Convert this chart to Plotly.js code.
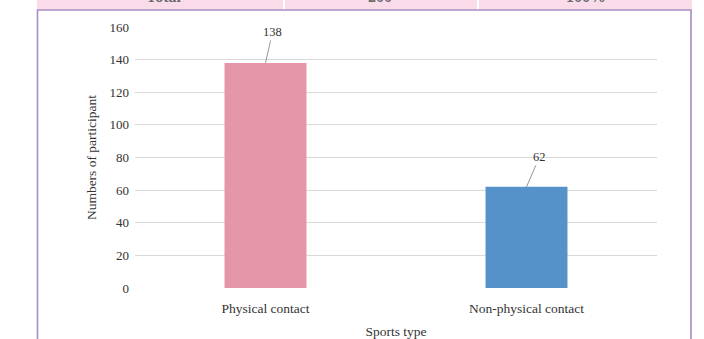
<!DOCTYPE html>
<html>
<head>
<meta charset="utf-8">
<script src="https://cdn.plot.ly/plotly-3.0.1.min.js"></script>
<style>
  html, body { margin: 0; padding: 0; background: #ffffff; }
  #chart { width: 704px; height: 339px; }
</style>
</head>
<body>
<div id="chart"></div>
<script>
// Participants by sports type
const categories = ["Physical contact", "Non-physical contact"];
const participants = [138, 62];
const barColors = ["#E596A9", "#5592CA"];
const yTicks = [0, 20, 40, 60, 80, 100, 120, 140, 160];
// Header row of the summary table above the chart
const headerCells = ["Total", "200", "100%"];

const W = 704, H = 339;
const M = { l: 135, r: 47, t: 27, b: 51 };
const plotW = W - M.l - M.r, plotH = H - M.t - M.b;
const px = x => (x - M.l) / plotW;
const py = y => (H - M.b - y) / plotH;

const textColor = "#333333";
const serif = "Liberation Serif, serif";

const trace = {
  type: "bar",
  x: categories,
  y: participants,
  marker: { color: barColors, line: { width: 0 } },
  width: 0.314,
  hoverinfo: "skip"
};

const shapes = [
  // pink table header band
  { type: "rect", xref: "paper", yref: "paper", layer: "below",
    x0: px(37), x1: px(692), y0: py(-2), y1: py(9.5),
    fillcolor: "#F9DBEA", line: { width: 0 } },
  // cell separators in the header band
  { type: "line", xref: "paper", yref: "paper", layer: "below",
    x0: px(284), x1: px(284), y0: py(-2), y1: py(9.5),
    line: { color: "#ffffff", width: 2 } },
  { type: "line", xref: "paper", yref: "paper", layer: "below",
    x0: px(478), x1: px(478), y0: py(-2), y1: py(9.5),
    line: { color: "#ffffff", width: 2 } },
  // chart frame
  { type: "rect", xref: "paper", yref: "paper", layer: "below",
    x0: px(37.5), x1: px(691), y0: py(10), y1: py(350),
    fillcolor: "#ffffff", line: { color: "#A88CC2", width: 1.6 } }
];

const headerX = [164, 380, 586];
const annotations = headerCells.map((t, i) => ({
  xref: "paper", yref: "paper", x: px(headerX[i]), y: py(7),
  xanchor: "center", yanchor: "bottom", showarrow: false,
  text: "<b>" + t + "</b>",
  font: { family: serif, size: 16, color: "#6a6a6a" }
}));

// value labels with short leader lines
const labelOffsets = [[7, -31], [13, -30]];
categories.forEach((c, i) => {
  annotations.push({
    x: c, y: participants[i], xref: "x", yref: "y",
    text: String(participants[i]),
    showarrow: true, arrowhead: 0, arrowwidth: 0.8, arrowcolor: "#7a7a7a",
    ax: labelOffsets[i][0], ay: labelOffsets[i][1],
    standoff: 0,
    font: { family: serif, size: 12.5, color: textColor }
  });
});

const layout = {
  width: W, height: H,
  margin: M,
  paper_bgcolor: "#ffffff",
  plot_bgcolor: "rgba(0,0,0,0)",
  showlegend: false,
  font: { family: serif, size: 13, color: textColor },
  xaxis: {
    type: "category",
    showgrid: false, zeroline: false, showline: false, ticks: "",
    tickfont: { family: serif, size: 13.5, color: textColor },
    ticklabelstandoff: 10,
    title: { text: "Sports type", font: { family: serif, size: 13.5, color: textColor }, standoff: 12 },
    automargin: false
  },
  yaxis: {
    range: [0, 160],
    tickvals: yTicks,
    ticktext: yTicks.map(String),
    showgrid: true, gridcolor: "#D9D9D9", gridwidth: 1,
    zeroline: false, showline: false, ticks: "",
    tickfont: { family: serif, size: 13, color: textColor },
    ticklabelstandoff: 5,
    title: { text: "Numbers of participant", font: { family: serif, size: 13.5, color: textColor }, standoff: 9 },
    automargin: false
  },
  shapes: shapes,
  annotations: annotations
};

Plotly.newPlot("chart", [trace], layout, { displayModeBar: false, staticPlot: true });
</script>
</body>
</html>
